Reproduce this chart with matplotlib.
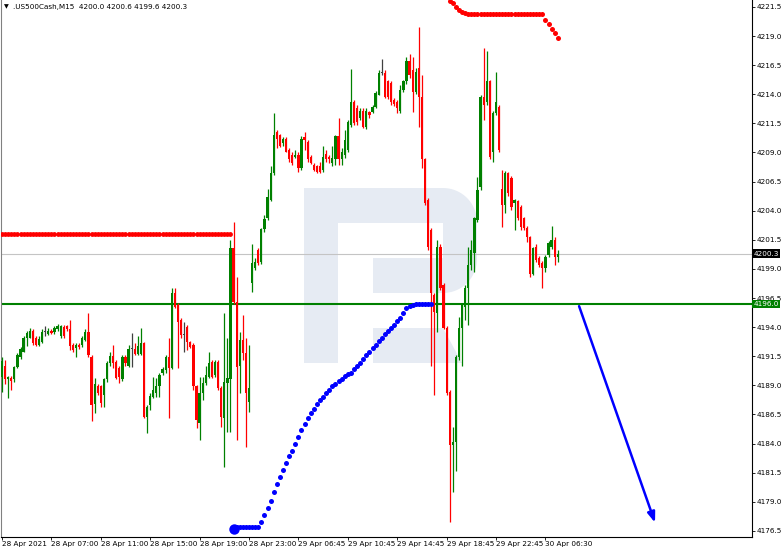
import numpy as np
import matplotlib
matplotlib.use("Agg")
import matplotlib.pyplot as plt
from matplotlib.patches import Polygon

# .US500Cash M15 candles (one entry per bar, left to right)
opens = [
    4189.7, 4190.7, 4189.5, 4189.6, 4189.5, 4190.6, 4191.4, 4191.9, 4193.1, 4193.1,
    4193.7, 4193.1, 4192.5, 4192.7, 4193.6, 4193.4, 4193.7, 4193.6, 4193.8, 4193.2,
    4194.0, 4194.1, 4193.8, 4192.5, 4192.2, 4192.5, 4192.5, 4192.9, 4193.6, 4191.4,
    4187.4, 4188.9, 4188.9, 4188.2, 4189.5, 4190.9, 4191.5, 4191.0, 4190.5, 4189.5,
    4191.4, 4190.7, 4192.1, 4192.1, 4191.7, 4191.7, 4192.6, 4186.3, 4187.3, 4188.0,
    4188.3, 4188.9, 4190.1, 4190.3, 4191.4, 4190.5, 4196.9, 4195.9, 4194.6, 4193.3,
    4194.0, 4192.7, 4192.5, 4188.9, 4185.8, 4188.3, 4189.2, 4189.7, 4191.0, 4189.9,
    4191.0, 4188.8, 4186.2, 4189.2, 4189.5, 4200.8, 4196.2, 4190.7, 4192.9, 4191.8,
    4187.6, 4197.8, 4199.1, 4200.6, 4199.6, 4202.4, 4203.4, 4204.9, 4207.2, 4210.8,
    4210.5, 4209.8, 4210.2, 4209.2, 4208.8, 4208.6, 4208.8, 4207.7, 4210.3, 4209.9,
    4208.6, 4207.9, 4207.8, 4207.8, 4207.5, 4208.9, 4208.6, 4208.1, 4208.4, 4210.4,
    4208.4, 4208.8, 4209.2, 4211.4, 4213.3, 4212.8, 4212.0, 4212.6, 4211.2, 4212.5,
    4212.5, 4212.9, 4213.9, 4215.8, 4215.8, 4215.1, 4215.0, 4213.5, 4213.3, 4212.6,
    4214.4, 4215.1, 4216.9, 4216.1, 4214.2, 4216.3, 4213.8, 4208.4, 4204.9, 4202.3,
    4196.8, 4195.2, 4200.9, 4197.6, 4193.9, 4188.4, 4183.9, 4184.1, 4191.4, 4193.9,
    4195.7, 4197.4, 4199.3, 4200.4, 4203.2, 4206.0, 4213.8, 4213.3, 4215.1, 4209.0,
    4212.4, 4212.9, 4205.9, 4204.5, 4207.2, 4206.8, 4204.7, 4204.8, 4204.3, 4203.4,
    4202.5, 4201.7, 4198.6, 4200.9, 4199.9, 4199.5, 4199.1, 4200.2, 4200.9, 4201.5,
    4200.0]
highs = [
    4191.4, 4191.2, 4189.8, 4189.8, 4190.7, 4191.8, 4192.3, 4193.2, 4193.7, 4193.9,
    4193.8, 4193.2, 4193.2, 4193.8, 4194.1, 4193.9, 4193.8, 4194.1, 4194.3, 4194.2,
    4194.2, 4194.2, 4194.6, 4192.6, 4192.6, 4192.6, 4193.2, 4193.8, 4195.2, 4191.6,
    4189.6, 4189.1, 4189.0, 4189.6, 4191.1, 4191.9, 4192.5, 4191.2, 4190.7, 4191.6,
    4191.6, 4192.5, 4193.5, 4192.6, 4193.2, 4193.9, 4192.7, 4187.3, 4188.3, 4189.7,
    4189.6, 4190.1, 4190.6, 4191.6, 4193.1, 4197.4, 4197.4, 4196.1, 4194.8, 4194.4,
    4194.2, 4192.8, 4192.6, 4189.0, 4189.7, 4189.7, 4190.7, 4191.9, 4191.2, 4191.2,
    4191.2, 4188.9, 4195.2, 4193.1, 4201.5, 4203.0, 4198.3, 4193.6, 4195.0, 4193.1,
    4192.5, 4201.1, 4199.9, 4200.8, 4202.5, 4203.6, 4205.9, 4207.8, 4212.4, 4210.9,
    4210.6, 4210.3, 4210.3, 4209.4, 4209.0, 4209.2, 4209.0, 4210.4, 4210.8, 4210.1,
    4208.8, 4208.1, 4207.9, 4208.2, 4209.6, 4209.2, 4208.8, 4209.6, 4210.5, 4212.0,
    4209.4, 4210.9, 4211.8, 4216.2, 4213.5, 4213.1, 4212.8, 4212.8, 4212.8, 4212.6,
    4213.1, 4214.3, 4216.1, 4217.0, 4216.1, 4215.2, 4215.1, 4213.7, 4213.5, 4214.8,
    4215.2, 4217.2, 4217.5, 4217.2, 4216.3, 4219.8, 4215.7, 4208.5, 4205.1, 4202.5,
    4196.9, 4201.5, 4201.1, 4197.8, 4194.1, 4188.6, 4185.4, 4191.6, 4194.9, 4196.1,
    4197.6, 4200.9, 4201.5, 4203.5, 4206.9, 4213.9, 4218.0, 4217.7, 4215.2, 4212.6,
    4215.9, 4213.1, 4207.5, 4207.4, 4207.3, 4207.0, 4205.0, 4204.9, 4204.5, 4203.5,
    4202.7, 4201.8, 4200.9, 4201.1, 4200.1, 4199.7, 4200.2, 4201.4, 4202.7, 4201.7,
    4200.6]
lows = [
    4188.4, 4189.1, 4187.9, 4188.6, 4189.3, 4190.5, 4191.3, 4191.9, 4192.4, 4193.1,
    4192.5, 4192.4, 4192.4, 4192.6, 4193.2, 4193.3, 4193.4, 4193.4, 4193.7, 4193.1,
    4193.1, 4193.7, 4192.0, 4191.9, 4191.4, 4192.1, 4192.3, 4192.8, 4191.4, 4185.9,
    4186.6, 4188.2, 4187.1, 4187.1, 4189.3, 4190.7, 4190.5, 4189.5, 4189.2, 4189.4,
    4190.7, 4190.6, 4190.6, 4191.6, 4191.6, 4191.6, 4186.2, 4184.9, 4186.9, 4187.9,
    4188.0, 4188.0, 4189.9, 4190.1, 4186.2, 4190.4, 4195.6, 4190.5, 4193.1, 4191.9,
    4192.0, 4192.2, 4188.6, 4185.3, 4184.3, 4187.7, 4189.0, 4189.6, 4189.6, 4189.7,
    4188.6, 4185.4, 4182.0, 4185.0, 4185.0, 4196.0, 4184.3, 4188.3, 4191.2, 4183.7,
    4186.7, 4197.0, 4198.9, 4199.3, 4199.4, 4202.2, 4203.2, 4204.8, 4207.1, 4209.4,
    4209.5, 4209.6, 4209.0, 4208.2, 4207.9, 4208.5, 4207.3, 4207.5, 4209.2, 4208.2,
    4208.0, 4207.4, 4207.2, 4207.2, 4207.3, 4208.2, 4208.1, 4207.8, 4207.9, 4207.9,
    4207.9, 4208.5, 4209.0, 4211.2, 4211.4, 4211.4, 4211.8, 4211.1, 4211.0, 4212.0,
    4212.4, 4212.8, 4213.9, 4215.7, 4213.7, 4213.6, 4213.1, 4213.0, 4212.4, 4212.4,
    4214.2, 4214.9, 4215.4, 4212.5, 4214.0, 4211.2, 4207.7, 4204.5, 4200.6, 4190.7,
    4188.2, 4193.6, 4197.2, 4193.8, 4188.2, 4177.3, 4179.8, 4181.6, 4191.2, 4190.7,
    4194.6, 4194.2, 4198.9, 4198.7, 4203.0, 4205.8, 4211.8, 4213.1, 4208.4, 4208.2,
    4212.2, 4209.0, 4202.6, 4203.8, 4205.3, 4204.1, 4202.3, 4203.2, 4202.3, 4202.3,
    4201.3, 4198.3, 4198.5, 4199.6, 4199.2, 4197.4, 4198.7, 4200.0, 4200.7, 4199.3,
    4199.6]
closes = [
    4191.1, 4189.5, 4189.7, 4189.4, 4190.6, 4191.6, 4192.1, 4193.1, 4193.5, 4193.7,
    4192.6, 4192.5, 4193.0, 4193.6, 4193.6, 4193.7, 4193.5, 4193.9, 4194.1, 4194.1,
    4193.2, 4193.8, 4192.4, 4192.0, 4192.5, 4192.3, 4193.1, 4193.6, 4191.6, 4187.3,
    4189.1, 4188.3, 4187.5, 4189.5, 4190.9, 4191.5, 4190.9, 4189.6, 4189.7, 4191.4,
    4190.9, 4192.1, 4192.1, 4191.7, 4192.4, 4192.6, 4186.3, 4187.1, 4188.1, 4188.6,
    4188.9, 4189.9, 4190.4, 4191.4, 4190.5, 4196.9, 4195.7, 4194.4, 4193.3, 4193.3,
    4192.7, 4192.3, 4188.9, 4186.0, 4188.3, 4189.2, 4189.9, 4190.9, 4189.7, 4191.0,
    4188.8, 4186.3, 4189.3, 4189.6, 4200.8, 4196.2, 4190.6, 4192.9, 4191.8, 4188.3,
    4188.8, 4199.5, 4199.6, 4199.5, 4202.4, 4203.3, 4205.2, 4207.2, 4210.5, 4210.2,
    4209.6, 4210.2, 4209.0, 4208.4, 4208.1, 4208.8, 4207.7, 4210.2, 4210.1, 4208.4,
    4208.1, 4207.5, 4207.3, 4207.3, 4208.6, 4208.4, 4208.4, 4208.5, 4210.4, 4208.4,
    4209.0, 4210.1, 4211.6, 4213.3, 4211.5, 4211.6, 4212.6, 4211.2, 4212.6, 4212.2,
    4212.9, 4214.1, 4215.8, 4215.8, 4213.8, 4213.8, 4213.3, 4213.2, 4212.8, 4214.4,
    4215.1, 4216.9, 4215.7, 4214.2, 4215.9, 4213.8, 4208.4, 4204.7, 4200.9, 4196.9,
    4195.3, 4200.9, 4197.4, 4193.9, 4188.3, 4183.9, 4184.1, 4191.4, 4193.9, 4195.9,
    4197.4, 4199.3, 4200.6, 4203.4, 4205.8, 4213.8, 4213.1, 4215.1, 4208.6, 4212.4,
    4213.3, 4209.2, 4204.5, 4207.2, 4205.5, 4204.3, 4204.9, 4203.4, 4202.6, 4202.5,
    4201.7, 4198.6, 4200.8, 4199.8, 4199.3, 4199.1, 4200.0, 4201.2, 4201.5, 4200.0,
    4200.3]

# parabolic-SAR style dots
sar_red_left = [4202.0] * 75          # bars 0..74, above price
sar_blue_start = 75                     # first blue bar (big dot)
sar_blue = [
    4176.7, 4176.8, 4176.8, 4176.8, 4176.8, 4176.8, 4176.8, 4176.8, 4176.8, 4177.3,
    4177.9, 4178.5, 4179.1, 4179.8, 4180.5, 4181.1, 4181.7, 4182.3, 4182.9, 4183.4,
    4184.0, 4184.6, 4185.2, 4185.7, 4186.2, 4186.6, 4187.0, 4187.4, 4187.7, 4188.0,
    4188.3, 4188.6, 4188.9, 4189.1, 4189.4, 4189.5, 4189.8, 4190.0, 4190.1, 4190.4,
    4190.7, 4190.9, 4191.3, 4191.6, 4191.9, 4192.2, 4192.5, 4192.8, 4193.1, 4193.4,
    4193.7, 4193.9, 4194.2, 4194.5, 4194.8, 4195.2, 4195.6, 4195.8, 4195.9, 4196.0,
    4196.0, 4196.0, 4196.0, 4196.0, 4196.0]
sar_red_top_start = 145
sar_red_top = [
    4222.0, 4221.8, 4221.5, 4221.2, 4221.1, 4221.0, 4220.9, 4220.9, 4220.9, 4220.9,
    4220.9, 4220.9, 4220.9, 4220.9, 4220.9, 4220.9, 4220.9, 4220.9, 4220.9, 4220.9,
    4220.9, 4220.9, 4220.9, 4220.9, 4220.9, 4220.9, 4220.9, 4220.9, 4220.9, 4220.9,
    4220.9, 4220.4, 4220.0, 4219.6, 4219.3, 4218.8]

bid_price = 4200.3
level_price = 4196.0
arrow_from = (186.9, 4195.8)
arrow_to = (211.5, 4177.2)

y_ticks = [4176.5, 4179.0, 4181.5, 4184.0, 4186.5, 4189.0, 4191.5, 4194.0, 4196.5,
           4199.0, 4201.5, 4204.0, 4206.5, 4209.0, 4211.5, 4214.0, 4216.5, 4219.0, 4221.5]
x_ticks = [0, 16, 32, 48, 64, 80, 96, 112, 128, 144, 160, 176]
x_labels = ["28 Apr 2021", "28 Apr 07:00", "28 Apr 11:00", "28 Apr 15:00", "28 Apr 19:00",
            "28 Apr 23:00", "29 Apr 06:45", "29 Apr 10:45", "29 Apr 14:45", "29 Apr 18:45",
            "29 Apr 22:45", "30 Apr 06:30"]

GREEN = "#008000"
RED = "#ff0000"
BLUE = "#0000ff"
FS = 5.2

W, H = 782, 553
fig = plt.figure(figsize=(W / 100, H / 100), dpi=100)
# plot box in pixels: x 1..752, y 0..537
ax = fig.add_axes([1 / W, (H - 537) / H, 751 / W, 537 / H])
ax.set_xlim(-0.32, 242.9)
ax.set_ylim(4175.97, 4222.1)


def px2ax(pts):
    # pixel position in the picture -> axes fraction
    return [((px - 1) / 751, 1 - py / 537) for px, py in pts]


# watermark logo behind everything
wm = "#e6ebf3"
arc = np.linspace(0, np.pi / 2, 20)
bowl = [(443, 188)] + [(443 + 34 * np.sin(t), 222 - 34 * np.cos(t)) for t in arc] + \
       [(443 + 34 * np.cos(t), 259 + 34 * np.sin(t)) for t in arc] + [(443, 293)]
shapes = [
    [(304, 188), (338, 188), (338, 363), (304, 363)],
    [(304, 188), (444, 188), (444, 223), (304, 223)],
    bowl,
    [(373, 258), (444, 258), (444, 293), (373, 293)],
    [(373, 328), (443, 328), (462, 363), (373, 363)],
]
for s in shapes:
    ax.add_patch(Polygon(px2ax(s), closed=True, transform=ax.transAxes,
                         fc=wm, ec="none", zorder=0))

# price lines
ax.axhline(bid_price, color="#c4c4c4", lw=0.8, zorder=1)
ax.axhline(level_price, color=GREEN, lw=1.5, zorder=2)

# candles
o = np.array(opens)
h = np.array(highs)
l = np.array(lows)
c = np.array(closes)
x = np.arange(len(c))
cols = np.where(c > o, GREEN, np.where(c < o, RED, "#404040"))
ax.vlines(x, l, h, colors=cols, lw=0.9, zorder=3)
body_h = np.maximum(np.abs(c - o), 0.09)
ax.bar(x, body_h, bottom=np.minimum(o, c), width=0.72, color=cols, lw=0, zorder=4)

# SAR dots
ax.plot(np.arange(len(sar_red_left)), sar_red_left, "o", color=RED, ms=3.5, mec="none", zorder=5)
xb = np.arange(sar_blue_start, sar_blue_start + len(sar_blue))
ax.plot(xb, sar_blue, "o", color=BLUE, ms=3.6, mec="none", zorder=5)
ax.plot(xb[0], sar_blue[0], "o", color=BLUE, ms=7.5, mec="none", zorder=5)
xr = np.arange(sar_red_top_start, sar_red_top_start + len(sar_red_top))
ax.plot(xr, sar_red_top, "o", color=RED, ms=3.6, mec="none", zorder=5, clip_on=True)

# forecast arrow
ax.annotate("", xy=arrow_to, xytext=arrow_from,
            arrowprops=dict(arrowstyle="-|>,head_length=0.6,head_width=0.22",
                            color=BLUE, lw=1.8, shrinkA=0, shrinkB=0), zorder=6)

# axes look
ax.spines["top"].set_visible(False)
ax.spines["left"].set_color("#808080")
ax.spines["right"].set_color("black")
ax.spines["bottom"].set_color("black")
for side in ["left", "right", "bottom"]:
    ax.spines[side].set_linewidth(0.8)

ax.yaxis.tick_right()
ax.set_yticks(y_ticks)
ax.set_yticklabels(["%.1f" % v for v in y_ticks])
ax.set_xticks(x_ticks)
ax.set_xticklabels(x_labels)
ax.tick_params(axis="both", direction="out", length=2.2, width=0.6, labelsize=FS, pad=1)
ax.tick_params(axis="y", pad=1.2)
for t in ax.get_xticklabels():
    t.set_ha("left")

# price tags on the right scale
ytr = ax.get_yaxis_transform()
ax.text(1.002, bid_price, "%.1f" % bid_price, transform=ytr, ha="left", va="center",
        fontsize=FS, color="white", zorder=10, clip_on=False,
        bbox=dict(boxstyle="square,pad=0.18", fc="black", ec="none"))
ax.text(1.002, level_price, "%.1f" % level_price, transform=ytr, ha="left", va="center",
        fontsize=FS, color="white", zorder=10, clip_on=False,
        bbox=dict(boxstyle="square,pad=0.18", fc=GREEN, ec="none"))

# header
ax.text(*px2ax([(4, 7)])[0], "\u25bc", transform=ax.transAxes, fontsize=4.5,
        va="center", ha="left")
ax.text(*px2ax([(13, 7)])[0], ".US500Cash,M15  4200.0 4200.6 4199.6 4200.3",
        transform=ax.transAxes, fontsize=FS, va="center", ha="left")

fig.savefig("out.png", dpi=100)
